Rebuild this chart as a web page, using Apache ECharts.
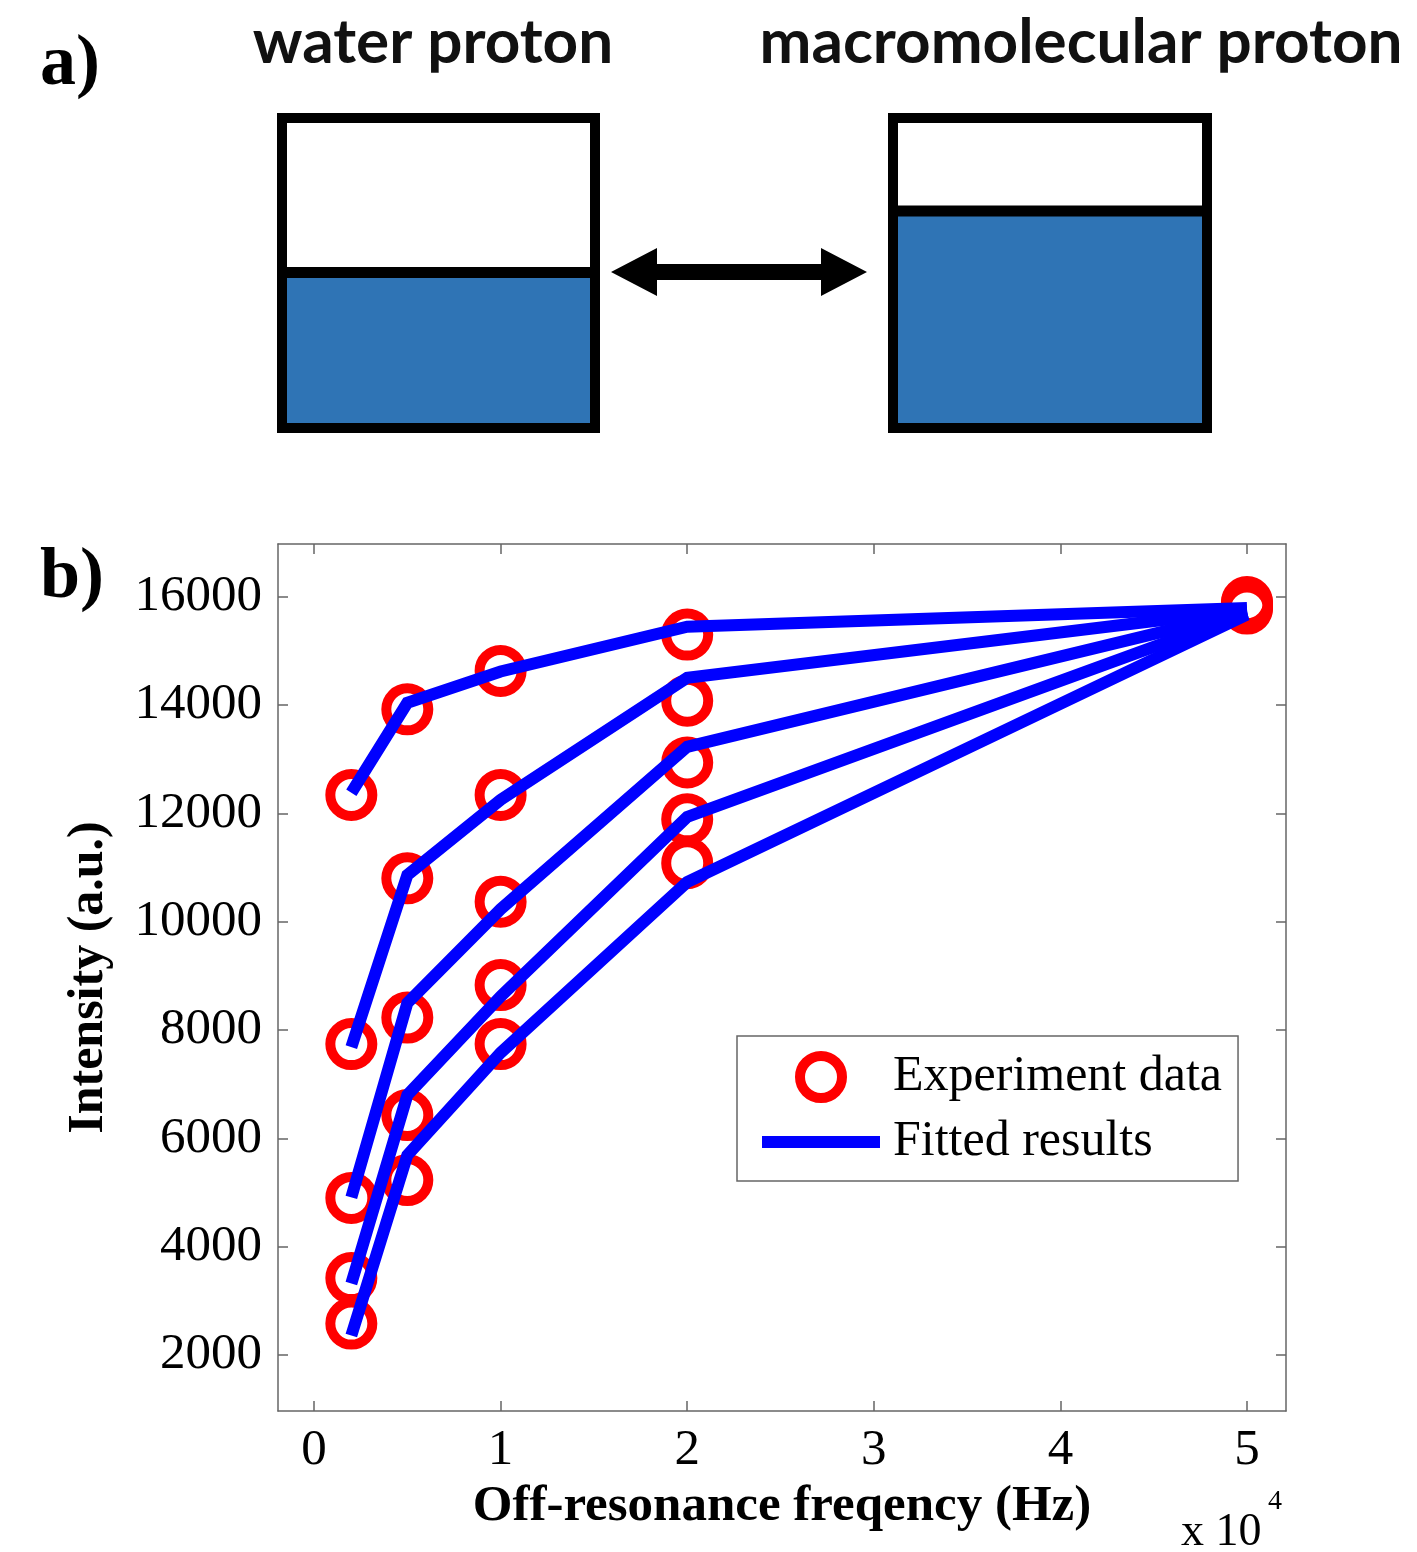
<!DOCTYPE html>
<html>
<head>
<meta charset="utf-8">
<script src="https://cdn.jsdelivr.net/npm/echarts@6/dist/echarts.min.js"></script>
<style>
html,body{margin:0;padding:0;background:#fff;}
#chart{width:1417px;height:1552px;}
</style>
</head>
<body>
<div id="chart"></div>
<script>
// ---- data ----
const freq = [2000, 5000, 10000, 20000, 50000];           // Hz
const xTicks = [0, 10000, 20000, 30000, 40000, 50000];
const yTicks = [2000, 4000, 6000, 8000, 10000, 12000, 14000, 16000];

// experiment data (red circles), one array per curve
const exp1 = [12340, 13920, 14630, 15300, 15900];
const exp2 = [7740, 10800, 12340, 14080, 15870];
const exp3 = [4900, 8230, 10370, 12940, 15840];
const exp4 = [3420, 6430, 8830, 11890, 15810];
const exp5 = [2580, 5230, 7740, 11080, 15780];

// fitted results (blue lines)
const fit1 = [12380, 14040, 14620, 15446, 15790];
const fit2 = [7683, 10860, 12250, 14503, 15760];
const fit3 = [4910, 8497, 10230, 13228, 15730];
const fit4 = [3320, 6797, 8620, 11934, 15700];
const fit5 = [2360, 5688, 7580, 10733, 15670];

const expSets = [exp1, exp2, exp3, exp4, exp5];
const fitSets = [fit1, fit2, fit3, fit4, fit5];

const serif = "'Liberation Serif', 'Times New Roman', serif";
const BLUE_BOX = '#2f74b5';

const chart = echarts.init(document.getElementById('chart'), null, {renderer: 'canvas'});

const scatterData = [];
expSets.forEach(s => s.forEach((v, i) => scatterData.push([freq[i], v])));

const series = [{
  name: 'Experiment data',
  type: 'scatter',
  z: 2,
  symbol: 'circle',
  symbolSize: 42,
  itemStyle: {color: 'rgba(255,255,255,0)', borderColor: '#ff0000', borderWidth: 10, opacity: 1},
  data: scatterData
}];
fitSets.forEach(s => {
  series.push({
    name: 'Fitted results',
    type: 'line',
    z: 3,
    symbol: 'none',
    showSymbol: false,
    lineStyle: {color: '#0000ff', width: 12, join: 'miter', cap: 'butt'},
    itemStyle: {color: '#0000ff'},
    data: s.map((v, i) => [freq[i], v])
  });
});

const axisLineStyle = {color: '#666', width: 1.5};

const option = {
  animation: false,
  backgroundColor: '#fff',
  grid: {left: 278, top: 544, right: 131, bottom: 141, containLabel: false},
  xAxis: [{
    type: 'value', position: 'bottom', min: -1930, max: 52090,
    splitLine: {show: false},
    axisLine: {show: true, lineStyle: axisLineStyle, onZero: false},
    axisTick: {show: true, inside: true, length: 10, lineStyle: axisLineStyle, customValues: xTicks},
    axisLabel: {show: true, customValues: xTicks, margin: 14, fontFamily: serif, fontSize: 51, color: '#000',
      formatter: v => String(Math.round(v / 10000))},
    name: 'Off-resonance freqency (Hz)', nameLocation: 'middle', nameGap: 70,
    nameTextStyle: {fontFamily: serif, fontSize: 51, fontWeight: 'bold', color: '#000'}
  }, {
    type: 'value', position: 'top', min: -1930, max: 52090,
    splitLine: {show: false},
    axisLine: {show: true, lineStyle: axisLineStyle, onZero: false},
    axisTick: {show: true, inside: true, length: 10, lineStyle: axisLineStyle, customValues: xTicks},
    axisLabel: {show: false}
  }],
  yAxis: [{
    type: 'value', position: 'left', min: 966, max: 16973,
    splitLine: {show: false},
    axisLine: {show: true, lineStyle: axisLineStyle, onZero: false},
    axisTick: {show: true, inside: true, length: 10, lineStyle: axisLineStyle, customValues: yTicks},
    axisLabel: {show: true, customValues: yTicks, margin: 16, fontFamily: serif, fontSize: 51, color: '#000',
      formatter: v => String(Math.round(v))},
    name: 'Intensity (a.u.)', nameLocation: 'middle', nameGap: 164, nameRotate: 90,
    nameTextStyle: {fontFamily: serif, fontSize: 50, fontWeight: 'bold', color: '#000'}
  }, {
    type: 'value', position: 'right', min: 966, max: 16973,
    splitLine: {show: false},
    axisLine: {show: true, lineStyle: axisLineStyle, onZero: false},
    axisTick: {show: true, inside: true, length: 10, lineStyle: axisLineStyle, customValues: yTicks},
    axisLabel: {show: false}
  }],
  legend: {
    show: true,
    orient: 'vertical',
    left: 737, top: 1036,
    padding: [15, 16, 14, 25],
    itemGap: 14,
    itemWidth: 118,
    itemHeight: 42,
    borderColor: '#666', borderWidth: 1.5,
    backgroundColor: '#fff',
    selectedMode: false,
    textStyle: {fontFamily: serif, fontSize: 50, color: '#000', padding: [0, 0, 0, 8]},
    data: [
      {name: 'Experiment data', icon: 'circle',
       itemStyle: {color: 'rgba(255,255,255,0)', borderColor: '#ff0000', borderWidth: 10}},
      {name: 'Fitted results', icon: 'path://M0,0H118V12H0Z',
       itemStyle: {color: '#0000ff', borderWidth: 0}}
    ]
  },
  graphic: [
    // panel labels
    {type: 'text', left: 40, top: 29, style: {text: 'a)', font: "bold 72px 'Liberation Serif'", fill: '#000'}},
    {type: 'text', left: 40, top: 542, style: {text: 'b)', font: "bold 72px 'Liberation Serif'", fill: '#000'}},
    // titles of panel a
    {type: 'text', x: 433, y: 43, style: {text: 'water proton', font: "bold 62px Lato, 'Open Sans', sans-serif", fill: '#111', align: 'center', verticalAlign: 'middle'}},
    {type: 'text', x: 1081, y: 43, style: {text: 'macromolecular proton', font: "bold 62px Lato, 'Open Sans', sans-serif", fill: '#111', align: 'center', verticalAlign: 'middle'}},
    // box 1 (water proton)
    {type: 'rect', shape: {x: 287, y: 272, width: 303, height: 151}, style: {fill: BLUE_BOX}},
    {type: 'line', shape: {x1: 282, y1: 272.5, x2: 595, y2: 272.5}, style: {stroke: '#000', lineWidth: 11}},
    {type: 'rect', shape: {x: 282, y: 118, width: 313, height: 310}, style: {fill: null, stroke: '#000', lineWidth: 10}},
    // box 2 (macromolecular proton)
    {type: 'rect', shape: {x: 898, y: 211, width: 304, height: 212}, style: {fill: BLUE_BOX}},
    {type: 'line', shape: {x1: 893, y1: 211, x2: 1207, y2: 211}, style: {stroke: '#000', lineWidth: 11}},
    {type: 'rect', shape: {x: 893, y: 118, width: 314, height: 310}, style: {fill: null, stroke: '#000', lineWidth: 10}},
    // double arrow
    {type: 'polygon', shape: {points: [[611, 272], [657, 248], [657, 264], [821, 264], [821, 248], [867, 272], [821, 296], [821, 280], [657, 280], [657, 296]]},
     style: {fill: '#000'}},
    // x 10^4 multiplier
    {type: 'text', left: 1181, top: 1510, style: {text: 'x 10', font: "46px 'Liberation Serif'", fill: '#000'}},
    {type: 'text', left: 1268, top: 1488, style: {text: '4', font: "28px 'Liberation Serif'", fill: '#000'}}
  ],
  series: series
};
chart.setOption(option);
</script>
</body>
</html>
